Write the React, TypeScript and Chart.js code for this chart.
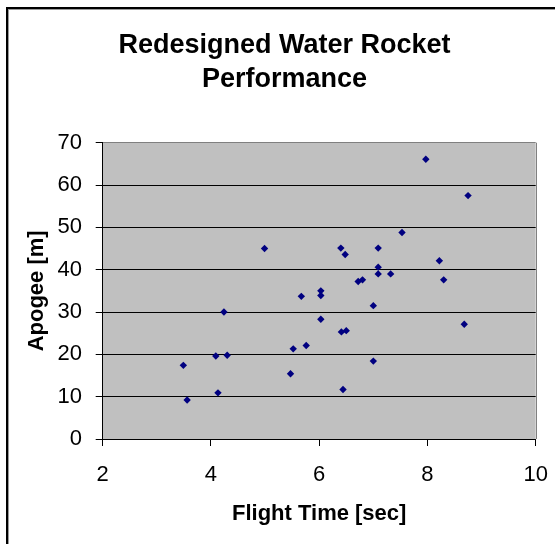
import React, { useEffect, useRef } from "react";
import { Chart, registerables } from "chart.js";

Chart.register(...registerables);

const chartTitle = ["Redesigned Water Rocket", "Performance"];
const xAxisTitle = "Flight Time [sec]";
const yAxisTitle = "Apogee [m]";

const flightTime = [
  3.49, 3.56, 4.09, 4.13, 4.24, 4.3, 4.99, 5.47, 5.52, 5.67, 5.76,
  6.03, 6.03, 6.03, 6.4, 6.48, 6.41, 6.5, 6.44, 6.72, 6.8,
  7.0, 7.0, 7.09, 7.09, 7.09, 7.32, 7.53, 7.97, 8.22, 8.3, 8.68, 8.75,
];
const apogee = [
  17.4, 9.2, 19.6, 10.9, 30.0, 19.8, 45.0, 15.4, 21.3, 33.7, 22.1,
  35.0, 33.9, 28.3, 45.1, 43.6, 25.3, 25.6, 11.7, 37.2, 37.6,
  31.5, 18.4, 45.1, 40.6, 39.0, 39.0, 48.8, 66.1, 42.1, 37.6, 27.1, 57.5,
];

const xMin = 2;
const xMax = 10;
const xStep = 2;
const yMin = 0;
const yMax = 70;
const yStep = 10;

const FONT = "'Liberation Sans', Arial, sans-serif";

const framePlugin = {
  id: "framePlugin",
  beforeDraw(chart: any) {
    const { ctx, chartArea, width, height } = chart;
    ctx.save();
    ctx.fillStyle = "#ffffff";
    ctx.fillRect(0, 0, width, height);
    ctx.fillStyle = "#c0c0c0";
    ctx.fillRect(
      chartArea.left,
      chartArea.top,
      chartArea.right - chartArea.left,
      chartArea.bottom - chartArea.top
    );
    // outer chart frame (extends beyond the visible window)
    ctx.fillStyle = "#000000";
    ctx.fillRect(6, 7, 2, height);
    ctx.fillRect(6, 7, width, 2);
    ctx.fillStyle = "#9a9a9a";
    ctx.fillRect(8, 9, 1, height);
    ctx.fillRect(8, 9, width, 1);
    ctx.restore();
  },
  beforeDatasetsDraw(chart: any) {
    const { ctx, chartArea } = chart;
    ctx.save();
    ctx.strokeStyle = "#808080";
    ctx.lineWidth = 1;
    ctx.beginPath();
    const r = Math.round(chartArea.right) + 0.5;
    ctx.moveTo(r, chartArea.top);
    ctx.lineTo(r, chartArea.bottom);
    ctx.stroke();
    ctx.restore();
  },
};

export default function App() {
  const canvasRef = useRef<HTMLCanvasElement | null>(null);

  useEffect(() => {
    const canvas = canvasRef.current;
    if (!canvas) return;
    const points = flightTime.map((x, i) => ({ x, y: apogee[i] }));
    const chart = new Chart(canvas, {
      type: "scatter",
      data: {
        datasets: [
          {
            label: "Apogee",
            data: points,
            pointStyle: "rectRot",
            pointRadius: 3.7,
            pointBackgroundColor: "#000080",
            pointBorderColor: "#000080",
            pointBorderWidth: 0,
            showLine: false,
          },
        ],
      },
      options: {
        responsive: false,
        maintainAspectRatio: false,
        devicePixelRatio: 1,
        animation: false,
        layout: {
          padding: { left: 33.3, right: 19.3, top: 0, bottom: 0 },
        },
        plugins: {
          legend: { display: false },
          tooltip: { enabled: false },
          title: {
            display: true,
            text: chartTitle,
            color: "#000000",
            font: { family: FONT, size: 27, weight: "bold", lineHeight: 34 / 27 },
            padding: { top: 28.8, bottom: 45.9 },
          },
        },
        scales: {
          x: {
            type: "linear",
            min: xMin,
            max: xMax,
            afterFit(scale: any) {
              scale.height = 105;
              scale.paddingRight = 0;
              scale.paddingLeft = 0;
            },
            ticks: {
              stepSize: xStep,
              color: "#000000",
              font: { family: FONT, size: 22 },
              padding: 16.2,
            },
            grid: {
              drawOnChartArea: false,
              drawTicks: true,
              tickLength: 7,
              color: "#000000",
              tickColor: "#000000",
            },
            border: { display: true, color: "#000000", width: 1 },
            title: {
              display: true,
              text: xAxisTitle,
              color: "#000000",
              font: { family: FONT, size: 22, weight: "bold" },
              padding: { top: 0, bottom: 17.1 },
            },
          },
          y: {
            type: "linear",
            min: yMin,
            max: yMax,
            afterFit(scale: any) {
              scale.width = 69.4;
            },
            ticks: {
              stepSize: yStep,
              color: "#000000",
              font: { family: FONT, size: 22 },
              padding: 13.7,
            },
            grid: {
              drawTicks: true,
              tickLength: 7,
              color: (ctx: any) =>
                ctx.tick && ctx.tick.value === yMax ? "#808080" : "#000000",
              tickColor: "#000000",
            },
            border: { display: true, color: "#000000", width: 1 },
            title: {
              display: true,
              text: yAxisTitle,
              color: "#000000",
              font: { family: FONT, size: 22, weight: "bold" },
              padding: { top: -10.0, bottom: 0 },
            },
          },
        },
      },
      plugins: [framePlugin],
    });
    return () => chart.destroy();
  }, []);

  return (
    <div style={{ position: "absolute", left: 0, top: 0, width: 555, height: 544, background: "#fff" }}>
      <canvas ref={canvasRef} width={555} height={544} style={{ display: "block" }} />
    </div>
  );
}
